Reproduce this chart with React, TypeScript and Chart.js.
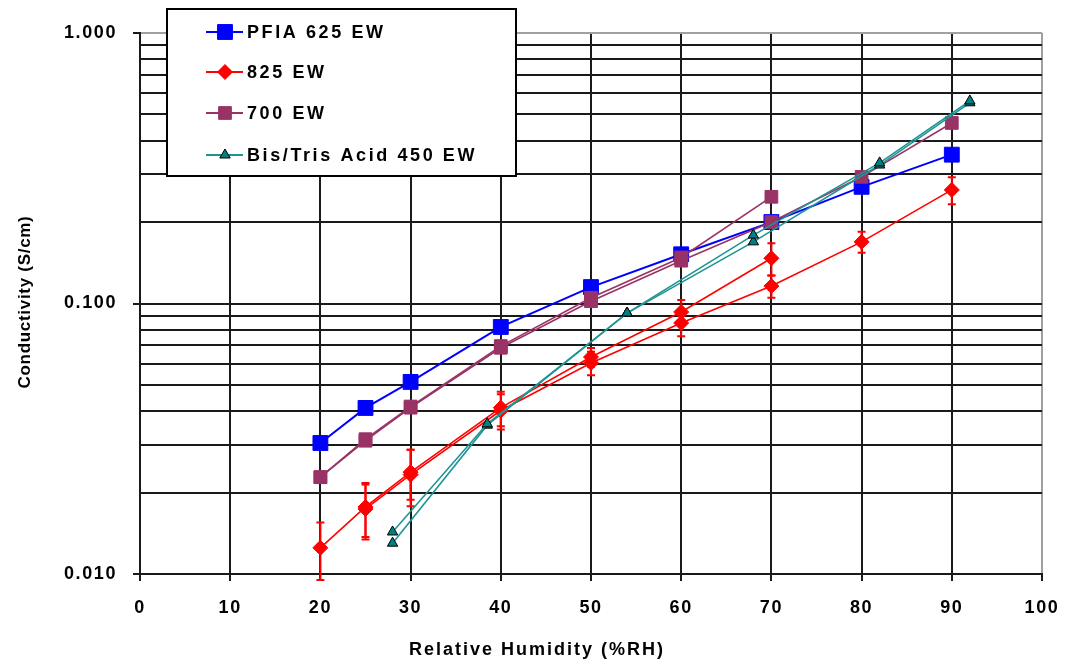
import { useEffect, useRef } from "react";
import { Chart, registerables } from "chart.js";
import { drawPoint } from "chart.js/helpers";

Chart.register(...registerables);

// Conductivity (S/cm) against relative humidity (%RH); most materials were measured in two runs.
const pfiaRH = [20, 25, 30, 40, 50, 60, 70, 80, 90];
const pfiaCond = [0.0305, 0.0411, 0.0513, 0.0819, 0.115, 0.152, 0.2, 0.27, 0.355];

const ew825RunARH = [20, 25, 30, 40, 50, 60, 70];
const ew825RunACond = [0.0125, 0.0177, 0.0238, 0.0412, 0.0634, 0.093, 0.147];
const ew825RunAErr = [0.003, 0.004, 0.005, 0.006, 0.005, 0.01, 0.02];
const ew825RunBRH = [25, 30, 40, 50, 60, 70, 80, 90];
const ew825RunBCond = [0.0174, 0.0233, 0.0402, 0.0603, 0.0847, 0.116, 0.169, 0.263];
const ew825RunBErr = [0.004, 0.0055, 0.006, 0.006, 0.009, 0.011, 0.015, 0.03];

const ew700RunARH = [20, 25, 30, 40, 50, 60, 70];
const ew700RunACond = [0.0228, 0.0315, 0.0416, 0.0696, 0.105, 0.148, 0.248];
const ew700RunBRH = [20, 25, 30, 40, 50, 60, 70, 80, 90];
const ew700RunBCond = [0.0228, 0.0311, 0.0412, 0.0686, 0.102, 0.144, 0.2, 0.294, 0.465];

const bisTrisRunARH = [28, 38.5, 54, 68, 82, 92];
const bisTrisRunACond = [0.0143, 0.0359, 0.0922, 0.179, 0.331, 0.561];
const bisTrisRunBRH = [28, 38.5, 54, 68, 82, 92];
const bisTrisRunBCond = [0.013, 0.0355, 0.0922, 0.169, 0.325, 0.552];

const seriesNames = ["PFIA 625 EW", "825 EW", "700 EW", "Bis/Tris Acid 450 EW"];

// Axis ticks: every decade step gets a grid line, only decades get a label
const rhTicks = [0, 10, 20, 30, 40, 50, 60, 70, 80, 90, 100];
const condGrid = [
  0.01, 0.02, 0.03, 0.04, 0.05, 0.06, 0.07, 0.08, 0.09,
  0.1, 0.2, 0.3, 0.4, 0.5, 0.6, 0.7, 0.8, 0.9, 1,
];
const condLabels = [0.01, 0.1, 1];

const xTitle = "Relative Humidity (%RH)";
const yTitle = "Conductivity (S/cm)";

const FONT_FAMILY = "'Liberation Sans', Arial, sans-serif";
const GRID = "#1a1a1a";
const FRAME = "#a0a0a0";

const BLUE = "#0000ff";
const RED = "#ff0000";
const PLUM = "#993366";
const TEAL_LINE = "#1f9494";
const TEAL_FILL = "#008080";

const pts = (xs: number[], ys: number[]) => xs.map((x, i) => ({ x, y: ys[i] }));

const styles = {
  pfia: { color: BLUE, pointStyle: "rect", radius: 10.5, fill: BLUE, border: BLUE, lineWidth: 2 },
  ew825: { color: RED, pointStyle: "rectRot", radius: 7.5, fill: RED, border: RED, lineWidth: 1.6 },
  ew700: { color: PLUM, pointStyle: "rect", radius: 9, fill: PLUM, border: PLUM, lineWidth: 1.6 },
  bis: { color: TEAL_LINE, pointStyle: "triangle", radius: 6, fill: TEAL_FILL, border: "#000", lineWidth: 1.6 },
};

function makeSet(s: any, data: { x: number; y: number }[], errors?: number[]) {
  return {
    data,
    errors,
    showLine: true,
    borderColor: s.color,
    borderWidth: s.lineWidth,
    backgroundColor: s.fill,
    pointStyle: s.pointStyle,
    pointRadius: s.radius,
    pointHoverRadius: s.radius,
    pointBackgroundColor: s.fill,
    pointBorderColor: s.border,
    pointBorderWidth: 1,
    tension: 0,
    fill: false,
  };
}

// Vertical error bars with short caps, drawn right after the owning dataset
const errorBars = {
  id: "errorBars",
  afterDatasetDraw(chart: any, args: any) {
    const ds = chart.data.datasets[args.index];
    if (!ds.errors) return;
    const { ctx, scales } = chart;
    ctx.save();
    ctx.strokeStyle = ds.borderColor;
    ctx.lineWidth = 2;
    ds.data.forEach((p: { x: number; y: number }, i: number) => {
      const e = ds.errors[i];
      const px = scales.x.getPixelForValue(p.x);
      const top = scales.y.getPixelForValue(p.y + e);
      const bot = scales.y.getPixelForValue(p.y - e);
      ctx.beginPath();
      ctx.moveTo(px, top);
      ctx.lineTo(px, bot);
      ctx.moveTo(px - 4, top);
      ctx.lineTo(px + 4, top);
      ctx.moveTo(px - 4, bot);
      ctx.lineTo(px + 4, bot);
      ctx.stroke();
    });
    ctx.restore();
  },
};

// Wider glyph spacing for axis tick labels
const tickSpacing = {
  id: "tickSpacing",
  beforeDraw(chart: any) {
    chart.ctx.letterSpacing = "1.6px";
  },
};

// Boxed legend in the upper left plus the two axis titles
const decorations = {
  id: "decorations",
  afterDraw(chart: any) {
    const ctx = chart.ctx as CanvasRenderingContext2D & { letterSpacing: string };
    ctx.save();

    ctx.fillStyle = "#ffffff";
    ctx.fillRect(167, 9, 349, 167);
    ctx.strokeStyle = "#000";
    ctx.lineWidth = 2;
    ctx.strokeRect(167, 9, 349, 167);

    const legendStyles = [styles.pfia, styles.ew825, styles.ew700, styles.bis];
    const rows = [32, 72, 113, 155];
    ctx.font = `bold 18px ${FONT_FAMILY}`;
    ctx.textBaseline = "middle";
    ctx.textAlign = "left";
    legendStyles.forEach((s, i) => {
      const y = rows[i];
      ctx.strokeStyle = s.color;
      ctx.lineWidth = 2;
      ctx.beginPath();
      ctx.moveTo(206, y);
      ctx.lineTo(243, y);
      ctx.stroke();
      ctx.fillStyle = s.fill;
      ctx.strokeStyle = s.border;
      ctx.lineWidth = 1;
      drawPoint(ctx, { pointStyle: s.pointStyle as any, radius: s.radius, rotation: 0, borderWidth: 1 }, 225, y);
      ctx.fillStyle = "#000";
      ctx.letterSpacing = "2.6px";
      ctx.fillText(seriesNames[i], 247, y + 1);
      ctx.letterSpacing = "0px";
    });

    ctx.fillStyle = "#000";
    ctx.font = `bold 18px ${FONT_FAMILY}`;
    ctx.textAlign = "center";
    ctx.textBaseline = "middle";
    ctx.letterSpacing = "2px";
    ctx.fillText(xTitle, 537, 650);

    ctx.font = `bold 17px ${FONT_FAMILY}`;
    ctx.translate(25, 302);
    ctx.rotate(-Math.PI / 2);
    ctx.letterSpacing = "0.7px";
    ctx.fillText(yTitle, 0, 0);
    ctx.restore();
  },
};

export default function App() {
  const ref = useRef<HTMLCanvasElement>(null);

  useEffect(() => {
    document.body.style.margin = "0";
    const tickFont = { family: FONT_FAMILY, size: 18, weight: "bold" as const };

    const chart = new Chart(ref.current!, {
      type: "line",
      data: {
        datasets: [
          makeSet(styles.bis, pts(bisTrisRunARH, bisTrisRunACond)),
          makeSet(styles.bis, pts(bisTrisRunBRH, bisTrisRunBCond)),
          makeSet(styles.ew700, pts(ew700RunARH, ew700RunACond)),
          makeSet(styles.ew700, pts(ew700RunBRH, ew700RunBCond)),
          makeSet(styles.ew825, pts(ew825RunARH, ew825RunACond), ew825RunAErr),
          makeSet(styles.ew825, pts(ew825RunBRH, ew825RunBCond), ew825RunBErr),
          makeSet(styles.pfia, pts(pfiaRH, pfiaCond)),
        ] as any,
      },
      options: {
        animation: false,
        responsive: false,
        devicePixelRatio: 1,
        layout: { padding: { top: 33, right: 24, bottom: 0, left: 0 } },
        plugins: { legend: { display: false }, tooltip: { enabled: false } },
        scales: {
          x: {
            type: "linear",
            min: 0,
            max: 100,
            afterBuildTicks: (s: any) => {
              s.ticks = rhTicks.map((v) => ({ value: v }));
            },
            afterFit: (s: any) => {
              s.height = 89;
              s.paddingLeft = 0;
              s.paddingRight = 0;
            },
            ticks: {
              font: tickFont,
              color: "#000",
              padding: 16,
              autoSkip: false,
              maxRotation: 0,
              callback: (v: any) => String(v),
            },
            grid: {
              color: (c: any) => (c.tick && c.tick.value === 100 ? FRAME : GRID),
              lineWidth: 2,
              tickLength: 7,
              tickColor: GRID,
              tickWidth: 2,
            },
            border: { color: GRID, width: 2 },
          },
          y: {
            type: "logarithmic",
            min: 0.01,
            max: 1,
            afterBuildTicks: (s: any) => {
              s.ticks = condGrid.map((v) => ({ value: v }));
            },
            afterFit: (s: any) => {
              s.width = 140;
              s.paddingTop = 0;
              s.paddingBottom = 0;
            },
            ticks: {
              font: tickFont,
              color: "#000",
              padding: 16,
              autoSkip: false,
              callback: (v: any) => (condLabels.includes(Number(v)) ? Number(v).toFixed(3) : ""),
            },
            grid: {
              color: (c: any) => (c.tick && c.tick.value === 1 ? FRAME : GRID),
              lineWidth: 2,
              tickLength: 7,
              tickColor: (c: any) =>
                c.tick && condLabels.includes(c.tick.value) ? GRID : "rgba(0,0,0,0)",
              tickWidth: 2,
            },
            border: { color: GRID, width: 2 },
          },
        },
      } as any,
      plugins: [tickSpacing, errorBars, decorations],
    });

    return () => chart.destroy();
  }, []);

  return (
    <canvas
      ref={ref}
      width={1066}
      height={663}
      style={{ display: "block", width: 1066, height: 663 }}
    />
  );
}
